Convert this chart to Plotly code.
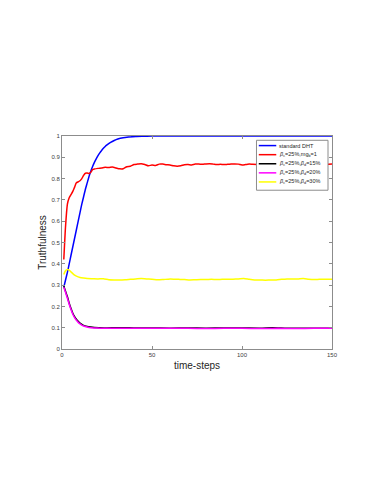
import plotly.graph_objects as go

# ---- data ----
blue_x = [1, 2, 3, 4, 5, 6, 7, 8, 9, 10, 11, 12, 13, 14, 15, 16, 17, 18, 19, 20,
          21, 22, 23, 24, 25, 27, 29, 31, 34, 37, 41, 46, 50, 150]
blue_y = [0.29, 0.325, 0.36, 0.40, 0.44, 0.48, 0.52, 0.56, 0.60, 0.64, 0.68, 0.715,
          0.75, 0.78, 0.81, 0.835, 0.857, 0.876, 0.893, 0.908, 0.921, 0.932, 0.942,
          0.951, 0.958, 0.970, 0.979, 0.986, 0.992, 0.995, 0.998, 0.999, 1.0, 1.0]

red_x = [1, 2, 3, 4, 5, 6, 7, 8, 9, 10, 11, 12, 13, 14, 15, 16, 17, 18, 20, 22, 24,
         26, 28, 30, 32, 34, 36, 38, 40, 42, 44, 46, 48, 50, 52, 54, 56, 58, 60, 62,
         64, 66, 68, 70, 72, 74, 76, 78, 80, 82, 84, 86, 88, 90, 92, 94, 96, 98, 100,
         102, 104, 106, 110, 115, 120, 125, 130, 135, 140, 144, 147, 150]
red_y = [0.42, 0.58, 0.68, 0.71, 0.725, 0.74, 0.76, 0.78, 0.785, 0.79, 0.80, 0.815,
         0.825, 0.826, 0.824, 0.83, 0.842, 0.845, 0.848, 0.85, 0.853, 0.852, 0.854,
         0.85, 0.846, 0.846, 0.856, 0.858, 0.866, 0.868, 0.87, 0.866, 0.86, 0.864,
         0.862, 0.868, 0.868, 0.865, 0.864, 0.86, 0.858, 0.86, 0.865, 0.866, 0.864,
         0.868, 0.868, 0.867, 0.869, 0.87, 0.868, 0.866, 0.867, 0.866, 0.867, 0.868,
         0.869, 0.868, 0.864, 0.866, 0.868, 0.867, 0.866, 0.868, 0.867, 0.868, 0.866,
         0.868, 0.866, 0.862, 0.866, 0.868]

black_x = [1, 2, 3, 4, 5, 6, 7, 8, 9, 10, 11, 12, 14, 16, 18, 21, 25, 30, 35, 40, 50,
           60, 70, 80, 90, 100, 110, 117, 125, 135, 150]
black_y = [0.295, 0.27, 0.245, 0.215, 0.19, 0.168, 0.152, 0.14, 0.13, 0.122, 0.116,
           0.111, 0.106, 0.103, 0.101, 0.1, 0.099, 0.1, 0.1, 0.099, 0.099, 0.098,
           0.099, 0.098, 0.099, 0.099, 0.098, 0.1, 0.098, 0.098, 0.098]

magenta_x = [1, 2, 3, 4, 5, 6, 7, 8, 9, 10, 11, 12, 14, 16, 18, 21, 25, 30, 40, 50,
             60, 70, 80, 90, 100, 110, 120, 130, 140, 150]
magenta_y = [0.29, 0.265, 0.238, 0.21, 0.185, 0.163, 0.147, 0.135, 0.125, 0.118,
             0.112, 0.108, 0.103, 0.1, 0.099, 0.098, 0.097, 0.097, 0.097, 0.097,
             0.097, 0.097, 0.096, 0.097, 0.097, 0.096, 0.097, 0.096, 0.097, 0.097]

yellow_x = [1, 2, 3, 4, 5, 6, 7, 8, 10, 12, 14, 17, 20, 23, 26, 29, 32, 35, 38, 41,
            44, 47, 50, 53, 56, 59, 62, 65, 68, 71, 74, 77, 80, 83, 86, 89, 92, 95,
            98, 101, 104, 107, 110, 113, 116, 119, 122, 125, 128, 131, 134, 137, 140,
            143, 146, 150]
yellow_y = [0.35, 0.368, 0.373, 0.37, 0.362, 0.354, 0.347, 0.342, 0.336, 0.333,
            0.331, 0.33, 0.329, 0.33, 0.325, 0.324, 0.324, 0.325, 0.327, 0.329, 0.331,
            0.329, 0.328, 0.325, 0.326, 0.328, 0.328, 0.327, 0.326, 0.324, 0.325,
            0.326, 0.326, 0.327, 0.326, 0.327, 0.327, 0.328, 0.329, 0.331, 0.327,
            0.324, 0.324, 0.323, 0.324, 0.324, 0.327, 0.329, 0.329, 0.329, 0.331,
            0.328, 0.326, 0.327, 0.327, 0.327]

names = ["standard DHT",
         "<i>β</i><sub>c</sub>=25%,mg<sub>b</sub>=1",
         "<i>β</i><sub>c</sub>=25%,<i>β</i><sub>d</sub>=15%",
         "<i>β</i><sub>c</sub>=25%,<i>β</i><sub>d</sub>=20%",
         "<i>β</i><sub>c</sub>=25%,<i>β</i><sub>d</sub>=30%"]
colors = ["#0000FF", "#FF0000", "#000000", "#FF00FF", "#FFFF00"]

x_ticks = [0, 50, 100, 150]

series = [(blue_x, blue_y), (red_x, red_y), (black_x, black_y),
          (magenta_x, magenta_y), (yellow_x, yellow_y)]

# ---- geometry (page has an 8px body margin) ----
PAGE_OFF = 8
W, H = 382 - PAGE_OFF, 494 - PAGE_OFF
PL, PR, PT, PB = 62, 332.3, 135.7, 349      # plot area in window pixels
ml, mt = PL - PAGE_OFF, PT - PAGE_OFF
mr = W - (PR - PAGE_OFF)
mb = H - (PB - PAGE_OFF)

def px_to_paper_x(px):
    return (px - PL) / (PR - PL)

def px_to_paper_y(py):
    return (PB - py) / (PB - PT)

fig = go.Figure()
for (xs, ys), nm, c in zip(series, names, colors):
    fig.add_trace(go.Scatter(x=xs, y=ys, mode="lines", name=nm, showlegend=False,
                             line=dict(color=c, width=1.5, shape="spline", smoothing=0.6)))

font_family = "Liberation Sans, Arial, sans-serif"
axis_common = dict(showline=True, linecolor="#8c8c8c", linewidth=1, mirror="ticks",
                   ticks="inside", ticklen=3, tickcolor="#8c8c8c", showgrid=False,
                   zeroline=False, tickfont=dict(size=6, color="#404040", family=font_family))

# ---- manual compact legend (MATLAB style) ----
shapes = [dict(type="rect", xref="paper", yref="paper",
               x0=px_to_paper_x(256.7), x1=px_to_paper_x(328.3),
               y0=px_to_paper_y(190), y1=px_to_paper_y(140),
               line=dict(color="#8c8c8c", width=1), fillcolor="white", layer="above")]
annotations = []
row0, row_step = 145.3, 9.1
for i, (nm, c) in enumerate(zip(names, colors)):
    yy = px_to_paper_y(row0 + row_step * i)
    shapes.append(dict(type="line", xref="paper", yref="paper",
                       x0=px_to_paper_x(259), x1=px_to_paper_x(276.5), y0=yy, y1=yy,
                       line=dict(color=c, width=1.5), layer="above"))
    annotations.append(dict(xref="paper", yref="paper", x=px_to_paper_x(277.5), y=yy,
                            xanchor="left", yanchor="middle", text=nm, showarrow=False,
                            font=dict(size=5.5, color="#262626", family=font_family)))

fig.update_layout(
    width=W, height=H,
    paper_bgcolor="white", plot_bgcolor="white",
    margin=dict(l=ml, r=mr, t=mt, b=mb),
    font=dict(family=font_family),
    xaxis=dict(range=[0, 150], tickvals=x_ticks, ticktext=[str(v) for v in x_ticks],
               title=dict(text="time-steps", font=dict(size=10, color="#262626"), standoff=4),
               **axis_common),
    yaxis=dict(range=[0, 1], dtick=0.1,
               title=dict(text="Truthfulness", font=dict(size=10, color="#262626"), standoff=2),
               **axis_common),
    shapes=shapes,
    annotations=annotations,
    showlegend=False,
)

fig.write_html("out.html")
